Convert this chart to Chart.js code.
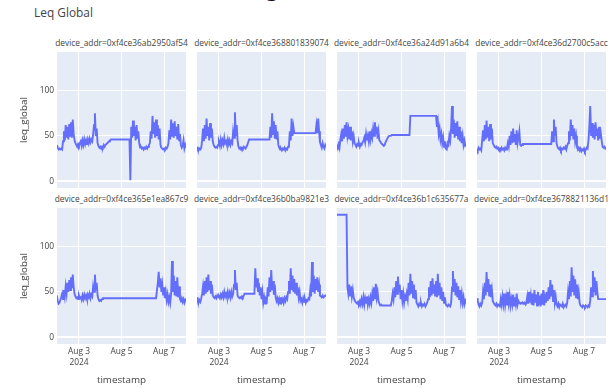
<!DOCTYPE html>
<html>
<head>
<meta charset="utf-8">
<script src="https://cdn.jsdelivr.net/npm/chart.js@4.4.1/dist/chart.umd.min.js"></script>
<style>
  html, body { margin: 0; padding: 0; background: #fff; overflow: hidden; }
  body { width: 616px; height: 388px; position: relative; font-family: 'Open Sans', sans-serif; color: #444; }
  canvas { position: absolute; }
  .txt { position: absolute; white-space: nowrap; }
  .cut { position: absolute; left: 266px; top: -19.5px; font: bold 18px 'DejaVu Serif', serif; line-height: 20px; color: #111; }
  .main { left: 34px; top: 6px; font-size: 11.9px; line-height: 12px; }
  .facet { width: 200px; text-align: center; font-size: 8.4px; line-height: 10px; }
</style>
</head>
<body>
<div class="cut">g</div>
<div class="txt main">Leq Global</div>
<script>
/* Leq Global — 8 facets, one per device, hourly samples from Aug 1 2024 23:00 */
const DEVICES = [
  '0xf4ce36ab2950af54', '0xf4ce368801839074', '0xf4ce36a24d91a6b4', '0xf4ce36d2700c5acc',
  '0xf4ce365e1ea867c9', '0xf4ce36b0ba9821e3', '0xf4ce36b1c635677a', '0xf4ce3678821136d1'
];

const START_HOUR = 23; // hours since Aug 1 00:00
const X_TICKS = [48, 96, 144];
const X_TICK_LABELS = [['Aug 3', '2024'], 'Aug 5', 'Aug 7'];
const Y_TICKS = [0, 50, 100];

const leq_ab2950af54 = [
  40, 37, 35, 36, 35, 36, 35, 44, 55, 45,
  62, 48, 60, 46, 63, 50, 65, 48, 68, 52,
  45, 42, 40, 38, 41, 39, 42, 44, 39, 45,
  40, 46, 41, 45, 40, 46, 42, 47, 43, 46,
  44, 52, 62, 75, 50, 58, 42, 39, 37, 38,
  36, 38, 37, 40, 38, 40, 41, 42, 43, 44,
  45, 46, 46, 46, 46, 46, 46, 46, 46, 46,
  46, 46, 46, 46, 46, 46, 46, 46, 46, 46,
  46, 46, 46, 1, 60, 48, 67, 50, 60, 45,
  62, 47, 55, 42, 37, 38, 36, 37, 35, 37,
  36, 38, 36, 38, 40, 42, 55, 47, 72, 52,
  65, 48, 68, 50, 62, 46, 58, 40, 37, 36,
  35, 36, 35, 37, 36, 38, 42, 56, 46, 68,
  50, 64, 48, 66, 50, 60, 46, 63, 45, 52,
  40, 37, 39, 45, 36, 40, 37
];
const leq_8801839074 = [
  38, 35, 34, 36, 35, 37, 45, 58, 44, 62,
  47, 69, 50, 60, 45, 64, 48, 58, 44, 40,
  38, 37, 38, 37, 40, 43, 39, 46, 40, 45,
  41, 48, 42, 44, 40, 46, 41, 45, 40, 44,
  42, 55, 48, 76, 50, 62, 45, 38, 36, 37,
  35, 37, 36, 38, 37, 36, 38, 40, 43, 46,
  46, 46, 46, 46, 46, 46, 46, 46, 46, 46,
  46, 46, 46, 46, 46, 46, 46, 46, 46, 46,
  46, 46, 46, 60, 48, 75, 52, 66, 47, 62,
  46, 55, 40, 37, 35, 36, 34, 36, 35, 37,
  34, 36, 35, 38, 40, 55, 45, 69, 50, 60,
  53, 53, 53, 53, 53, 53, 53, 53, 53, 53,
  53, 53, 53, 53, 53, 53, 53, 53, 53, 53,
  53, 53, 53, 53, 53, 62, 53, 69, 55, 43,
  40, 37, 42, 38, 36, 40, 38
];
const leq_a24d91a6b4 = [
  40, 38, 41, 37, 46, 52, 44, 58, 47, 62,
  49, 65, 50, 57, 46, 60, 45, 55, 44, 50,
  42, 40, 38, 41, 39, 42, 38, 41, 40, 43,
  44, 48, 43, 52, 45, 50, 44, 55, 46, 53,
  48, 58, 50, 65, 52, 60, 47, 55, 45, 44,
  42, 41, 40, 39, 40, 43, 45, 47, 49, 50,
  50, 50, 51, 51, 51, 51, 51, 51, 51, 51,
  51, 51, 51, 51, 51, 51, 51, 51, 51, 51,
  51, 51, 51, 72, 72, 72, 72, 72, 72, 72,
  72, 72, 72, 72, 72, 72, 72, 72, 72, 72,
  72, 72, 72, 72, 72, 72, 72, 72, 72, 72,
  72, 72, 72, 60, 66, 52, 58, 46, 52, 42,
  48, 38, 44, 36, 35, 42, 40, 50, 45, 58,
  83, 52, 68, 48, 64, 50, 66, 46, 60, 44,
  55, 42, 50, 40, 45, 39, 40
];
const leq_d2700c5acc = [
  36, 34, 37, 35, 36, 34, 45, 56, 44, 62,
  46, 67, 48, 60, 44, 63, 46, 58, 42, 40,
  38, 37, 38, 36, 37, 35, 36, 34, 37, 35,
  36, 34, 37, 35, 36, 42, 38, 50, 40, 55,
  42, 58, 44, 52, 40, 56, 42, 48, 55, 40,
  39, 40, 41, 41, 41, 41, 41, 41, 41, 41,
  41, 41, 41, 41, 41, 41, 41, 41, 41, 41,
  41, 41, 41, 41, 41, 41, 41, 41, 41, 41,
  41, 41, 41, 41, 41, 55, 44, 68, 50, 60,
  42, 38, 36, 35, 37, 34, 36, 35, 37, 36,
  38, 35, 39, 42, 55, 45, 68, 50, 62, 46,
  58, 44, 50, 38, 35, 37, 34, 36, 33, 35,
  34, 36, 33, 35, 37, 36, 45, 60, 83, 50,
  64, 48, 62, 46, 65, 50, 58, 45, 60, 47,
  52, 44, 38, 37, 38, 36, 37
];
const leq_5e1ea867c9 = [
  46, 40, 37, 38, 41, 44, 48, 42, 52, 45,
  56, 48, 60, 50, 63, 52, 66, 54, 69, 55,
  48, 45, 43, 44, 42, 46, 43, 44, 41, 46,
  42, 47, 43, 46, 42, 47, 44, 48, 43, 47,
  45, 56, 50, 69, 52, 60, 46, 42, 40, 41,
  40, 42, 43, 43, 43, 43, 43, 43, 43, 43,
  43, 43, 43, 43, 43, 43, 43, 43, 43, 43,
  43, 43, 43, 43, 43, 43, 43, 43, 43, 43,
  43, 43, 43, 43, 43, 43, 43, 43, 43, 43,
  43, 43, 43, 43, 43, 43, 43, 43, 43, 43,
  43, 43, 43, 43, 43, 43, 43, 43, 43, 43,
  43, 43, 43, 43, 60, 72, 55, 65, 50, 58,
  46, 55, 43, 50, 41, 47, 39, 44, 38, 48,
  84, 50, 68, 46, 62, 45, 66, 44, 56, 42,
  40, 43, 39, 42, 38, 41, 39
];
const leq_b0ba9821e3 = [
  44, 40, 38, 41, 39, 43, 48, 56, 46, 62,
  48, 66, 50, 69, 52, 62, 48, 58, 46, 44,
  43, 45, 43, 46, 44, 45, 43, 47, 44, 48,
  44, 50, 45, 48, 44, 50, 45, 49, 44, 50,
  45, 48, 58, 74, 52, 60, 46, 44, 43, 44,
  43, 45, 44, 46, 48, 48, 48, 48, 48, 48,
  48, 48, 48, 48, 48, 48, 76, 55, 65, 50,
  60, 46, 55, 42, 50, 38, 44, 37, 42, 40,
  55, 45, 66, 50, 74, 52, 62, 47, 58, 44,
  40, 43, 38, 42, 37, 44, 39, 42, 38, 43,
  40, 44, 42, 50, 62, 48, 76, 52, 68, 50,
  64, 48, 60, 46, 55, 44, 50, 40, 42, 38,
  43, 39, 42, 38, 41, 40, 43, 42, 52, 45,
  83, 50, 68, 48, 64, 52, 66, 50, 58, 46,
  45, 44, 46, 44, 45, 46, 45
];
const leq_b1c635677a = [
  135, 135, 135, 135, 135, 135, 135, 135, 135, 135,
  135, 135, 55, 48, 58, 46, 56, 45, 52, 44,
  41, 39, 38, 37, 39, 37, 40, 36, 42, 37,
  44, 36, 43, 38, 45, 36, 42, 37, 44, 38,
  48, 40, 55, 42, 59, 44, 50, 40, 37, 35,
  36, 35, 35, 35, 35, 35, 35, 35, 35, 35,
  35, 35, 40, 48, 42, 55, 44, 62, 48, 67,
  50, 58, 42, 52, 40, 48, 38, 45, 40, 48,
  42, 60, 46, 70, 48, 62, 44, 58, 42, 52,
  38, 36, 34, 37, 35, 38, 34, 36, 35, 37,
  34, 36, 38, 42, 55, 44, 62, 46, 65, 48,
  58, 45, 62, 44, 70, 46, 60, 42, 55, 40,
  50, 38, 44, 36, 35, 34, 36, 35, 34, 38,
  55, 73, 50, 64, 46, 60, 44, 56, 42, 52,
  40, 48, 38, 44, 36, 40, 37
];
const leq_78821136d1 = [
  43, 40, 36, 34, 37, 35, 38, 50, 42, 60,
  46, 72, 50, 64, 45, 58, 44, 52, 40, 38,
  36, 35, 37, 34, 36, 35, 34, 42, 36, 45,
  37, 48, 36, 44, 35, 50, 38, 46, 35, 42,
  36, 47, 35, 44, 37, 48, 36, 40, 38, 37,
  38, 37, 38, 37, 38, 36, 38, 45, 37, 50,
  38, 46, 36, 48, 35, 52, 38, 47, 35, 50,
  36, 46, 34, 48, 36, 52, 35, 44, 38, 50,
  40, 55, 42, 63, 45, 58, 40, 52, 38, 45,
  36, 34, 37, 33, 36, 35, 34, 37, 33, 35,
  36, 34, 38, 50, 42, 62, 45, 77, 50, 68,
  46, 64, 44, 58, 42, 50, 38, 35, 34, 33,
  35, 34, 33, 35, 34, 33, 35, 34, 40, 55,
  45, 73, 50, 66, 46, 62, 50, 42, 42, 42,
  42, 42, 42, 42, 42, 42, 42
];
const SERIES = [
  leq_ab2950af54, leq_8801839074, leq_a24d91a6b4, leq_d2700c5acc,
  leq_5e1ea867c9, leq_b0ba9821e3, leq_b1c635677a, leq_78821136d1
];

const LINE = '#636EFA';
const PLOT_BG = '#E5ECF6';
const INK = '#444';
const FONT = "'Open Sans', sans-serif";

const COL_LEFT = [57, 197, 337, 477];
const ROW_TOP = [52, 208];
const PLOT_W = 129, PLOT_H = 136;
const AXIS_W = 43, AXIS_H = 44;

Chart.defaults.font.family = FONT;
Chart.defaults.color = INK;

const plotBg = {
  id: 'plotBg',
  beforeDraw(chart) {
    const a = chart.chartArea, c = chart.ctx;
    c.save();
    c.fillStyle = PLOT_BG;
    c.fillRect(a.left, a.top, a.right - a.left, a.bottom - a.top);
    c.restore();
  }
};

function pin(size, key) {
  return s => {
    s[key] = size;
    s.paddingLeft = s.paddingRight = s.paddingTop = s.paddingBottom = 0;
  };
}

DEVICES.forEach((dev, i) => {
  const col = i % 4, row = Math.floor(i / 4);
  const L = col === 0 ? AXIS_W : 0;
  const B = row === 1 ? AXIS_H : 0;

  const cv = document.createElement('canvas');
  cv.width = PLOT_W + L; cv.height = PLOT_H + B;
  cv.style.left = (COL_LEFT[col] - L) + 'px';
  cv.style.top = ROW_TOP[row] + 'px';
  cv.style.width = cv.width + 'px'; cv.style.height = cv.height + 'px';
  document.body.appendChild(cv);

  const t = document.createElement('div');
  t.className = 'txt facet';
  t.textContent = 'device_addr=' + dev;
  t.style.left = (COL_LEFT[col] + PLOT_W / 2 - 100) + 'px';
  t.style.top = (ROW_TOP[row] - 13.8) + 'px';
  document.body.appendChild(t);

  const vals = SERIES[i];
  new Chart(cv, {
    type: 'line',
    data: {
      datasets: [{
        data: vals.map((v, k) => ({ x: START_HOUR + k, y: v })),
        borderColor: LINE,
        borderWidth: 1.9,
        pointRadius: 0,
        tension: 0,
        fill: false
      }]
    },
    options: {
      responsive: false, animation: false, devicePixelRatio: 1, events: [],
      layout: { padding: 0 },
      plugins: { legend: { display: false }, tooltip: { enabled: false } },
      scales: {
        x: {
          type: 'linear', min: 23.2, max: 168.8,
          afterBuildTicks: s => { s.ticks = X_TICKS.map(v => ({ value: v })); },
          afterFit: pin(B, 'height'),
          grid: { color: '#fff', lineWidth: 1, drawTicks: false },
          border: { display: false },
          ticks: {
            display: row === 1, autoSkip: false, maxRotation: 0, padding: 2,
            font: { size: 8.4, lineHeight: 1.3 }, color: INK,
            callback: v => X_TICK_LABELS[X_TICKS.indexOf(v)]
          },
          title: { display: row === 1, text: 'timestamp', font: { size: 9.8 }, color: INK, padding: { top: 0, bottom: 2 } }
        },
        y: {
          min: -7.5, max: 142.5,
          afterBuildTicks: s => { s.ticks = Y_TICKS.map(v => ({ value: v })); },
          afterFit: pin(L, 'width'),
          grid: {
            color: '#fff', drawTicks: false,
            lineWidth: c => (c.tick && c.tick.value === 0 ? 2 : 1)
          },
          border: { display: false },
          ticks: { display: col === 0, padding: 3, font: { size: 8.4 }, color: INK },
          title: { display: col === 0, text: 'leq_global', font: { size: 9.8 }, color: INK, padding: { top: 4, bottom: 0 } }
        }
      }
    },
    plugins: [plotBg]
  });
});
</script>
</body>
</html>
